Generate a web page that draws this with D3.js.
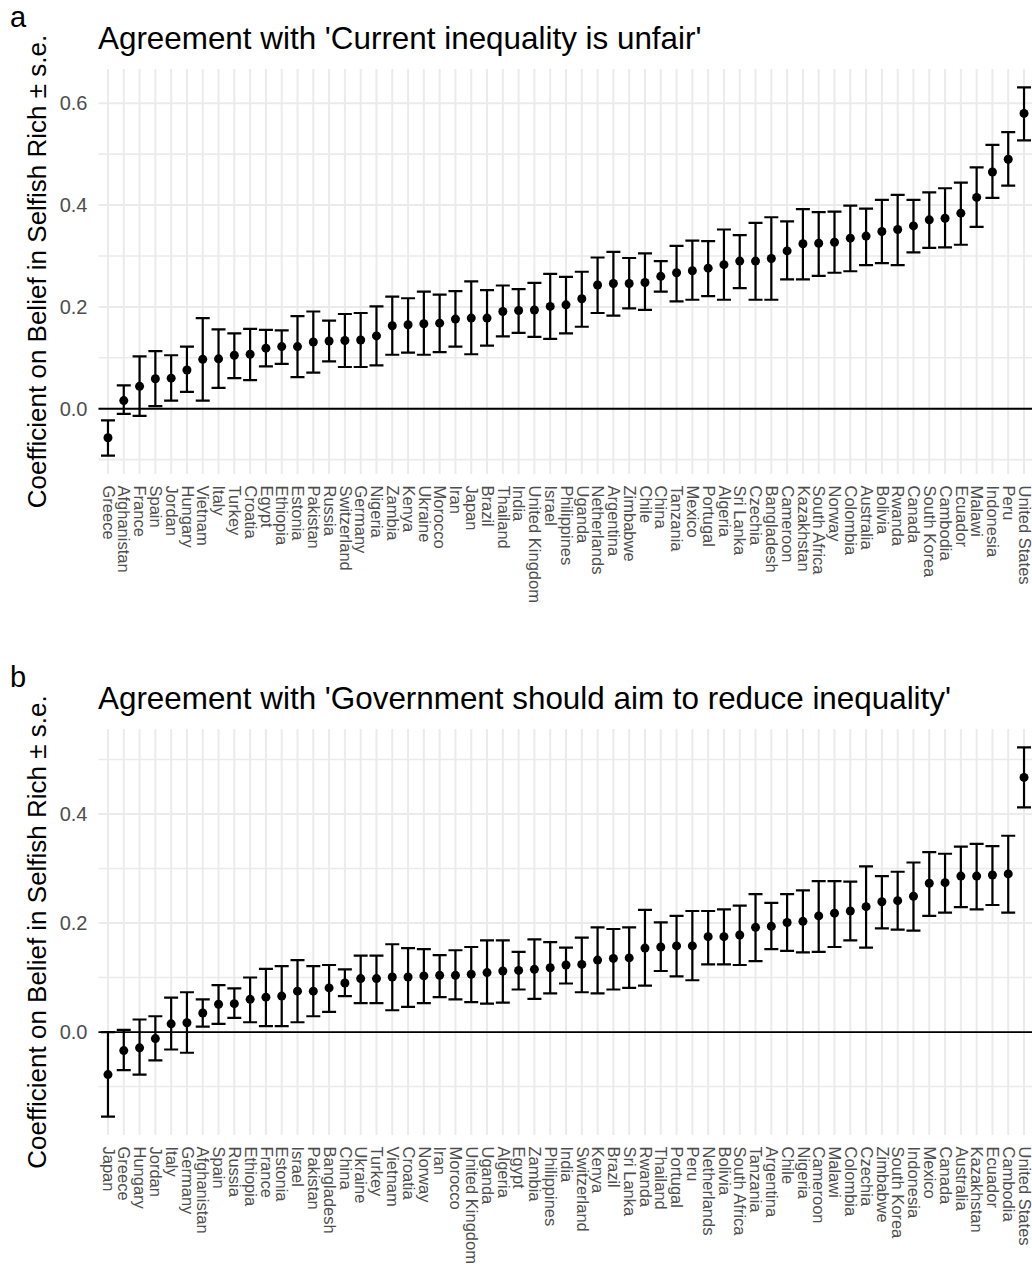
<!DOCTYPE html>
<html>
<head>
<meta charset="utf-8">
<script src="https://cdn.jsdelivr.net/npm/d3@7"></script>
<style>
  html, body { margin: 0; padding: 0; background: #fff; }
  svg { display: block; font-family: "Liberation Sans", Arial, sans-serif; }
</style>
</head>
<body>
<svg id="chart" width="1032" height="1264"></svg>
<script>
// Panel a: agreement with 'Current inequality is unfair'
const countriesA = ["Greece","Afghanistan","France","Spain","Jordan","Hungary","Vietnam","Italy","Turkey","Croatia","Egypt","Ethiopia","Estonia","Pakistan","Russia","Switzerland","Germany","Nigeria","Zambia","Kenya","Ukraine","Morocco","Iran","Japan","Brazil","Thailand","India","United Kingdom","Israel","Philippines","Uganda","Netherlands","Argentina","Zimbabwe","Chile","China","Tanzania","Mexico","Portugal","Algeria","Sri Lanka","Czechia","Bangladesh","Cameroon","Kazakhstan","South Africa","Norway","Colombia","Australia","Bolivia","Rwanda","Canada","South Korea","Cambodia","Ecuador","Malawi","Indonesia","Peru","United States"];
const estA = [-0.057,0.016,0.044,0.059,0.060,0.076,0.097,0.098,0.105,0.107,0.119,0.122,0.122,0.131,0.133,0.134,0.135,0.143,0.163,0.165,0.167,0.168,0.176,0.178,0.178,0.191,0.193,0.194,0.201,0.204,0.216,0.243,0.246,0.246,0.248,0.260,0.267,0.271,0.276,0.283,0.290,0.290,0.295,0.310,0.324,0.325,0.327,0.335,0.339,0.348,0.352,0.359,0.371,0.374,0.384,0.415,0.465,0.490,0.580];
const loA = [-0.092,-0.010,-0.014,0.005,0.016,0.033,0.016,0.041,0.060,0.056,0.083,0.088,0.062,0.071,0.093,0.082,0.082,0.085,0.106,0.110,0.106,0.111,0.122,0.107,0.124,0.142,0.149,0.141,0.137,0.148,0.161,0.188,0.183,0.197,0.194,0.230,0.211,0.214,0.221,0.214,0.237,0.214,0.214,0.254,0.254,0.261,0.267,0.270,0.282,0.286,0.282,0.307,0.316,0.317,0.322,0.357,0.414,0.438,0.527];
const hiA = [-0.023,0.046,0.103,0.113,0.105,0.122,0.178,0.156,0.148,0.157,0.155,0.154,0.182,0.191,0.173,0.186,0.188,0.201,0.220,0.217,0.230,0.224,0.231,0.250,0.233,0.242,0.235,0.247,0.265,0.259,0.269,0.297,0.308,0.296,0.305,0.290,0.320,0.330,0.329,0.352,0.341,0.365,0.376,0.368,0.392,0.386,0.387,0.399,0.393,0.410,0.420,0.410,0.425,0.433,0.444,0.474,0.518,0.543,0.631];
const majorA = [0, 0.2, 0.4, 0.6];
const minorA = [-0.1, 0.1, 0.3, 0.5];

// Panel b: agreement with 'Government should aim to reduce inequality'
const countriesB = ["Japan","Greece","Hungary","Jordan","Italy","Germany","Afghanistan","Spain","Russia","Ethiopia","France","Estonia","Israel","Pakistan","Bangladesh","China","Ukraine","Turkey","Vietnam","Croatia","Norway","Iran","Morocco","United Kingdom","Uganda","Algeria","Egypt","Zambia","Philippines","India","Switzerland","Kenya","Brazil","Sri Lanka","Rwanda","Thailand","Portugal","Peru","Netherlands","Bolivia","South Africa","Tanzania","Argentina","Chile","Nigeria","Cameroon","Malawi","Colombia","Czechia","Zimbabwe","South Korea","Indonesia","Mexico","Canada","Australia","Kazakhstan","Ecuador","Cambodia","United States"];
const estB = [-0.078,-0.034,-0.029,-0.012,0.015,0.017,0.035,0.051,0.052,0.060,0.064,0.066,0.075,0.075,0.081,0.090,0.098,0.098,0.101,0.101,0.103,0.104,0.104,0.106,0.109,0.112,0.113,0.115,0.118,0.123,0.124,0.132,0.135,0.136,0.154,0.156,0.158,0.158,0.175,0.175,0.178,0.192,0.194,0.201,0.203,0.213,0.218,0.222,0.230,0.239,0.241,0.249,0.273,0.274,0.286,0.286,0.288,0.290,0.467];
const loB = [-0.155,-0.070,-0.078,-0.052,-0.032,-0.038,0.010,0.015,0.026,0.018,0.011,0.011,0.018,0.029,0.037,0.066,0.053,0.053,0.040,0.046,0.053,0.064,0.060,0.055,0.052,0.054,0.078,0.061,0.071,0.089,0.073,0.071,0.078,0.081,0.085,0.112,0.102,0.095,0.124,0.124,0.123,0.130,0.152,0.149,0.146,0.147,0.156,0.168,0.155,0.190,0.188,0.186,0.213,0.219,0.229,0.225,0.233,0.219,0.412];
const hiB = [0.000,0.004,0.023,0.029,0.063,0.073,0.060,0.086,0.080,0.100,0.116,0.121,0.132,0.121,0.123,0.115,0.140,0.140,0.161,0.154,0.152,0.141,0.150,0.156,0.168,0.168,0.147,0.170,0.165,0.155,0.173,0.192,0.189,0.192,0.224,0.201,0.213,0.222,0.222,0.225,0.232,0.253,0.237,0.253,0.260,0.277,0.277,0.276,0.304,0.286,0.294,0.311,0.330,0.327,0.340,0.345,0.341,0.360,0.522];
const majorB = [0, 0.2, 0.4];
const minorB = [-0.1, 0.1, 0.3, 0.5];

const yTitle = "Coefficient on Belief in Selfish Rich \u00b1 s.e.";

const svg = d3.select("#chart");
const plotLeft = 98.5, plotRight = 1033.5;
const gridColor = "#EBEBEB";
const textGrey = "#4D4D4D";
const fontStack = "\"Liberation Sans\", Arial, sans-serif";

function drawPanel(cfg) {
  const g = svg.append("g");
  const x = d3.scalePoint().domain(cfg.countries).range([plotLeft, plotRight]).padding(0.6);

  // 5% expansion of the error-bar extent
  const lo = d3.min(cfg.lo), hi = d3.max(cfg.hi);
  const pad = (hi - lo) * 0.05;
  const y = d3.scaleLinear().domain([lo - pad, hi + pad]).range([cfg.bottom, cfg.top]);

  // minor + major horizontal grid
  g.selectAll("line.minor").data(cfg.minor).join("line")
    .attr("x1", plotLeft).attr("x2", plotRight)
    .attr("y1", d => y(d)).attr("y2", d => y(d))
    .attr("stroke", gridColor).attr("stroke-width", 1.6);
  g.selectAll("line.major").data(cfg.major).join("line")
    .attr("x1", plotLeft).attr("x2", plotRight)
    .attr("y1", d => y(d)).attr("y2", d => y(d))
    .attr("stroke", gridColor).attr("stroke-width", 2);
  // vertical grid, one per country
  g.append("g").selectAll("line").data(cfg.countries).join("line")
    .attr("x1", d => x(d)).attr("x2", d => x(d))
    .attr("y1", cfg.top).attr("y2", cfg.bottom)
    .attr("stroke", gridColor).attr("stroke-width", 2);

  // y axis labels
  const yAxis = d3.axisLeft(y).tickValues(cfg.major).tickFormat(d3.format(".1f")).tickSize(0).tickPadding(0);
  const ya = g.append("g").attr("transform", `translate(${plotLeft - 11},0)`).call(yAxis);
  ya.select(".domain").remove();
  ya.selectAll("text").attr("fill", textGrey).attr("font-size", 20).attr("font-family", fontStack);

  // x axis labels, rotated to read downward
  const xAxis = d3.axisBottom(x).tickSize(0).tickPadding(0);
  const xa = g.append("g").attr("transform", `translate(0,${cfg.bottom + 11.5})`).call(xAxis);
  xa.select(".domain").remove();
  xa.selectAll("text")
    .attr("fill", textGrey).attr("font-size", 16.5).attr("font-family", fontStack)
    .attr("y", 0).attr("x", 0).attr("dy", "0.35em")
    .attr("text-anchor", "start")
    .attr("transform", "rotate(90)");

  // zero reference line
  g.append("line")
    .attr("x1", plotLeft).attr("x2", plotRight)
    .attr("y1", y(0)).attr("y2", y(0))
    .attr("stroke", "#000").attr("stroke-width", 1.8);

  // error bars
  const idx = d3.range(cfg.countries.length);
  const cap = 7;
  const eb = g.append("g").attr("stroke", "#000").attr("stroke-width", 2.2).attr("fill", "none");
  eb.selectAll("path").data(idx).join("path")
    .attr("d", i => {
      const cx = x(cfg.countries[i]), y0 = y(cfg.lo[i]), y1 = y(cfg.hi[i]);
      return `M${cx - cap},${y1}H${cx + cap}M${cx},${y1}V${y0}M${cx - cap},${y0}H${cx + cap}`;
    });

  // point estimates
  g.append("g").selectAll("circle").data(idx).join("circle")
    .attr("cx", i => x(cfg.countries[i]))
    .attr("cy", i => y(cfg.est[i]))
    .attr("r", 4.5).attr("fill", "#000");

  // title, tag and axis title
  g.append("text").attr("x", 98).attr("y", cfg.top - 20)
    .attr("font-size", 31.4).attr("fill", "#000").text(cfg.title);
  g.append("text").attr("x", 10).attr("y", cfg.top - 42)
    .attr("font-size", 29).attr("fill", "#000").text(cfg.tag);
  g.append("text")
    .attr("transform", `translate(46,${(cfg.top + cfg.bottom) / 2}) rotate(-90)`)
    .attr("text-anchor", "middle").attr("font-size", 26).attr("fill", "#000")
    .text(yTitle);
}

drawPanel({
  countries: countriesA, est: estA, lo: loA, hi: hiA,
  major: majorA, minor: minorA,
  top: 69, bottom: 474,
  title: "Agreement with 'Current inequality is unfair'", tag: "a"
});

drawPanel({
  countries: countriesB, est: estB, lo: loB, hi: hiB,
  major: majorB, minor: minorB,
  top: 729, bottom: 1135,
  title: "Agreement with 'Government should aim to reduce inequality'", tag: "b"
});
</script>
</body>
</html>
